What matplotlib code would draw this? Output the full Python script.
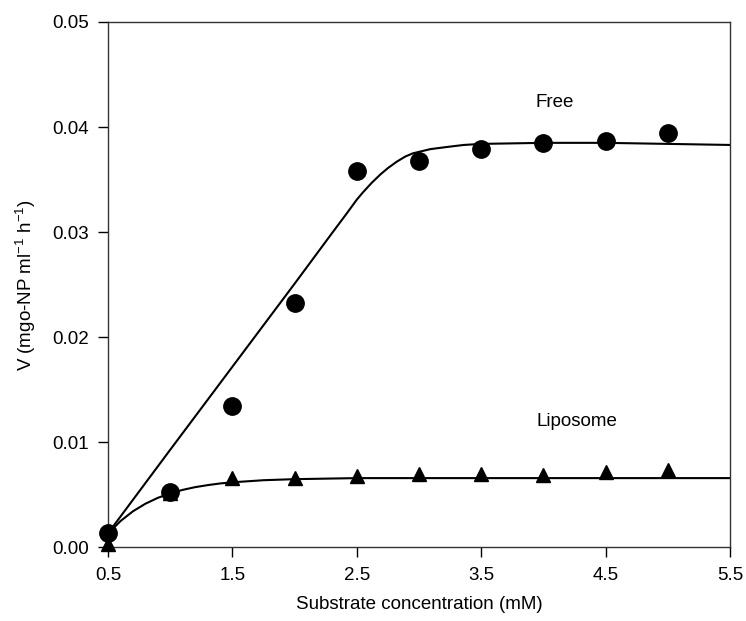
import matplotlib
matplotlib.use("Agg")
import matplotlib.pyplot as plt

plt.rcParams['font.family'] = ['Liberation Sans', 'DejaVu Sans']

# Measured points
x_points = [0.5, 1.0, 1.5, 2.0, 2.5, 3.0, 3.5, 4.0, 4.5, 5.0]
free_v = [0.0014, 0.0053, 0.0135, 0.0233, 0.0358, 0.0368, 0.0379, 0.0385, 0.0387, 0.0394]
lipo_v = [0.0003, 0.0052, 0.0066, 0.0066, 0.0068, 0.0070, 0.0070, 0.0069, 0.0072, 0.0074]

# Fitted curves
free_fit_x = [0.5, 1.0, 1.5, 2.0, 2.15, 2.3, 2.42, 2.5, 2.55, 2.62, 2.69, 2.75,
              2.82, 2.89, 2.95, 3.09, 3.22, 3.36, 3.5, 4.0, 4.5, 5.0, 5.5]
free_fit_y = [0.00135, 0.0093, 0.0172, 0.0251, 0.0275, 0.0299, 0.0318, 0.0331,
              0.0338, 0.0347, 0.0355, 0.0361, 0.0367, 0.0372, 0.0375, 0.0379,
              0.0381, 0.0383, 0.0384, 0.0385, 0.0385, 0.0384, 0.0383]
lipo_fit_x = [0.5, 0.6, 0.7, 0.8, 0.9, 1.0, 1.1, 1.2, 1.3, 1.4, 1.5, 1.75, 2.0,
              2.5, 3.0, 3.5, 4.0, 4.5, 5.0, 5.5]
lipo_fit_y = [0.0013, 0.00251, 0.00344, 0.00416, 0.00472, 0.00515, 0.00548,
              0.00574, 0.00593, 0.00609, 0.0062, 0.0064, 0.0065, 0.0066, 0.0066,
              0.0066, 0.0066, 0.0066, 0.0066, 0.0066]

x_ticks = [0.5, 1.5, 2.5, 3.5, 4.5, 5.5]
y_ticks = [0.00, 0.01, 0.02, 0.03, 0.04, 0.05]

fig = plt.figure(figsize=(7.46, 6.21), dpi=100)
ax = fig.add_axes([0.1448, 0.1184, 0.8338, 0.8462])

ax.plot(free_fit_x, free_fit_y, color='black', lw=1.5, zorder=2)
ax.plot(lipo_fit_x, lipo_fit_y, color='black', lw=1.5, zorder=2)
ax.plot(x_points, lipo_v, linestyle='none', marker='^', ms=10, color='black',
        clip_on=False, zorder=3)
ax.plot(x_points, free_v, linestyle='none', marker='o', ms=12.5, color='black',
        clip_on=False, zorder=4)

ax.text(4.09, 0.0423, 'Free', ha='center', va='center', fontsize=13.5)
ax.text(4.27, 0.0120, 'Liposome', ha='center', va='center', fontsize=13.5)

ax.set_xlim(0.5, 5.5)
ax.set_ylim(0.0, 0.05)
ax.set_xticks(x_ticks)
ax.set_xticklabels(['%.1f' % v for v in x_ticks])
ax.set_yticks(y_ticks)
ax.set_yticklabels(['%.2f' % v for v in y_ticks])
ax.tick_params(direction='out', length=7, width=1.0, labelsize=13.5, pad=7,
               top=False, right=False)
for s in ax.spines.values():
    s.set_linewidth(1.0)
    s.set_color('#333333')

ax.set_xlabel('Substrate concentration (mM)', fontsize=13.5, labelpad=9)
ax.set_ylabel('V (mgo-NP ml$^{\\mathregular{-1}}$ h$^{\\mathregular{-1}}$)',
              fontsize=13.5, labelpad=10)

fig.savefig('out.png', dpi=100)
